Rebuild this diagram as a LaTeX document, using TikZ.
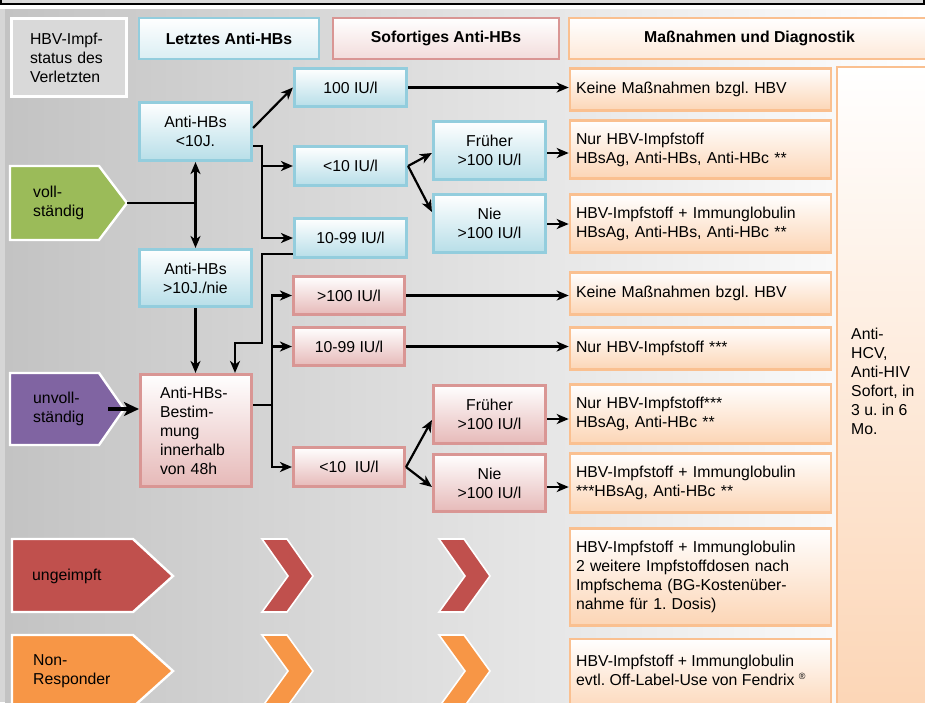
\documentclass[tikz,border=0pt]{standalone}
\usepackage{fontspec}
\setmainfont{Liberation Sans}
\usetikzlibrary{arrows.meta}
\definecolor{bgL}{HTML}{C3C3C3}
\definecolor{bgStrip}{HTML}{D6D6D6}
\definecolor{topGray}{HTML}{DADADA}
\definecolor{blueB}{HTML}{93CDDD}
\definecolor{blueF}{HTML}{B7DEE8}
\definecolor{redB}{HTML}{D99694}
\definecolor{redF}{HTML}{E6B9B8}
\definecolor{oraB}{HTML}{FAC090}
\definecolor{oraF}{HTML}{FCD5B5}
\definecolor{hdrBlue}{HTML}{DAEEF3}
\definecolor{hdrRed}{HTML}{F2DCDB}
\definecolor{hdrOra}{HTML}{FDE9D9}
\definecolor{stGreen}{HTML}{9BBB59}
\definecolor{stPurple}{HTML}{8064A2}
\definecolor{stRed}{HTML}{C0504D}
\definecolor{stOrange}{HTML}{F79646}
\definecolor{hbvGray}{HTML}{D9D9D9}
\tikzset{
  box/.style={rectangle, line width=2.6pt, inner sep=0pt, align=center, text=black},
  bluebox/.style={box, draw=blueB, top color=white, bottom color=blueF},
  redbox/.style={box, draw=redB, top color=white, bottom color=redF},
  obox/.style={box, draw=oraB, top color=white, bottom color=oraF, align=left, inner xsep=6pt, text width=249pt, minimum width=261pt},
  hdr/.style={box, font=\fontsize{15.8}{19}\selectfont\bfseries},
  arr/.style={draw=black, line width=2.2pt, -{Stealth[length=12pt,width=10pt,inset=3.5pt]}},
  dbl/.style={draw=black, line width=2.2pt, {Stealth[length=12pt,width=10pt,inset=3.5pt]}-{Stealth[length=12pt,width=10pt,inset=3.5pt]}},
  arrthick/.style={draw=black, line width=3.4pt, -{Stealth[length=15pt,width=14pt,inset=4pt]}},
  plain/.style={draw=black, line width=2.2pt},
  stat/.style={line width=2.4pt, draw=white},
  chev/.style={line width=1.6pt, draw=white},
  lbl/.style={anchor=west, align=left, inner sep=0pt, text=black},
}
\begin{document}
\frenchspacing
\begin{tikzpicture}[x=1pt,y=-1pt, font=\fontsize{15.8}{19}\selectfont]
\useasboundingbox (0,0) rectangle (925,702);
% top frame strip
\fill[topGray] (0,0) rectangle (925,4);
\fill[black] (0,3) rectangle (925,5);
\fill[black] (0,0) rectangle (2,5);
\fill[black] (923,0) rectangle (925,5);
\fill[white] (0,5) rectangle (925,9);
% background
\shade[left color=bgL, right color=white] (5,9) rectangle (925,702);
\fill[bgStrip] (0,9) rectangle (5,702);

% headers
\node[box, draw=white, line width=3pt, fill=hbvGray, minimum width=115pt, minimum height=78pt, text width=78pt, align=left] (hbv) at (69,57.5) {HBV-Impf-\\status des\\Verletzten};
\node[hdr, draw=blueB, top color=white, bottom color=hdrBlue, minimum width=180pt, minimum height=41pt] (hA) at (229,38.5) {Letztes Anti-HBs};
\node[hdr, draw=redB, top color=white, bottom color=hdrRed, minimum width=226pt, minimum height=41pt] (hB) at (446,38.5) {Sofortiges Anti-HBs};
\node[hdr, draw=oraB, top color=white, bottom color=hdrOra, minimum width=361pt, minimum height=41pt] (hC) at (749.5,38.5) {Maßnahmen und Diagnostik};

% status pentagons
\path[stat, fill=stGreen] (10,166) -- (99,166) -- (127,203) -- (99,240) -- (10,240) -- cycle;
\coordinate (volltip) at (127,203);
\node[lbl] (voll) at (33,203) {voll-\\ständig};
\path[stat, fill=stPurple] (10,373) -- (99,373) -- (124,409) -- (99,445) -- (10,445) -- cycle;
\node[lbl] (unvoll) at (33,409) {unvoll-\\ständig};
\path[stat, fill=stRed] (12,539) -- (133,539) -- (173,576) -- (133,612) -- (12,612) -- cycle;
\node[lbl] (ungeimpft) at (32,576) {ungeimpft};
\path[stat, fill=stOrange] (12,635) -- (133,635) -- (173,671) -- (133,707) -- (12,707) -- cycle;
\node[lbl] (nonresp) at (33,671) {Non-\\Responder};

% chevrons
\path[chev, fill=stRed] (262,539) -- (287,539) -- (313,576) -- (287,612) -- (262,612) -- (288,576) -- cycle;
\path[chev, fill=stRed] (439,539) -- (464,539) -- (490,576) -- (464,612) -- (439,612) -- (465,576) -- cycle;
\path[chev, fill=stOrange] (262,635) -- (287,635) -- (313,671) -- (287,707) -- (262,707) -- (288,671) -- cycle;
\path[chev, fill=stOrange] (439,635) -- (464,635) -- (490,671) -- (464,707) -- (439,707) -- (465,671) -- cycle;

% blue boxes
\node[bluebox, minimum width=112.5pt, minimum height=58.5pt] (a10) at (195.5,131.5) {Anti-HBs\\<10J.};
\node[bluebox, minimum width=112.5pt, minimum height=57.5pt] (a10n) at (195.5,278) {Anti-HBs\\>10J./nie};
\node[bluebox, minimum width=112.5pt, minimum height=38.5pt] (b100) at (350.5,87.5) {100 IU/l};
\node[bluebox, minimum width=112.5pt, minimum height=39.5pt] (blt10) at (350.5,166) {<10 IU/l};
\node[bluebox, minimum width=112.5pt, minimum height=39.5pt] (b1099) at (350.5,238) {10-99 IU/l};
\node[bluebox, minimum width=112.5pt, minimum height=58.5pt] (bfr) at (489.5,150.5) {Früher\\>100 IU/l};
\node[bluebox, minimum width=112.5pt, minimum height=58.5pt] (bnie) at (489.5,223.5) {Nie\\>100 IU/l};

% red boxes
\node[redbox, minimum width=111.5pt, minimum height=112.5pt, text width=72pt, align=left] (rbest) at (196,430.5) {Anti-HBs-\\Bestim-\\mung\\innerhalb\\von 48h};
\node[redbox, minimum width=111.5pt, minimum height=38.5pt] (r100) at (349,295.5) {>100 IU/l};
\node[redbox, minimum width=111.5pt, minimum height=38.5pt] (r1099) at (349,346.5) {10-99 IU/l};
\node[redbox, minimum width=111.5pt, minimum height=39.5pt] (rlt10) at (349,467) {<10\ \ IU/l};
\node[redbox, minimum width=112.5pt, minimum height=58.5pt] (rfr) at (489.5,414.5) {Früher\\>100 IU/l};
\node[redbox, minimum width=112.5pt, minimum height=57.5pt] (rnie) at (489.5,483) {Nie\\>100 IU/l};

% measures
\node[obox, minimum height=42.5pt] (o1) at (700.5,89.5) {Keine Maßnahmen bzgl. HBV};
\node[obox, minimum height=58.5pt] (o2) at (700.5,149.5) {Nur HBV-Impfstoff\\HBsAg, Anti-HBs, Anti-HBc **};
\node[obox, minimum height=58.5pt] (o3) at (700.5,223.5) {HBV-Impfstoff + Immunglobulin\\HBsAg, Anti-HBs, Anti-HBc **};
\node[obox, minimum height=42.5pt] (o4) at (700.5,293.5) {Keine Maßnahmen bzgl. HBV};
\node[obox, minimum height=42.5pt] (o5) at (700.5,348.5) {Nur HBV-Impfstoff ***};
\node[obox, minimum height=59.5pt] (o6) at (700.5,414) {Nur HBV-Impfstoff***\\HBsAg, Anti-HBc **};
\node[obox, minimum height=59.5pt] (o7) at (700.5,483) {HBV-Impfstoff + Immunglobulin\\{}***HBsAg, Anti-HBc **};
\node[obox, minimum height=97.5pt] (o8) at (700.5,577) {HBV-Impfstoff + Immunglobulin\\2 weitere Impfstoffdosen nach\\Impfschema (BG-Kostenüber-\\nahme für 1. Dosis)};
\node[box, draw=oraB, top color=white, bottom color=oraF, minimum width=261pt, minimum height=76pt] (o9) at (700.5,677) {};
\node[lbl] (o9t) at (576,670) {HBV-Impfstoff + Immunglobulin\\evtl. Off-Label-Use von Fendrix {\fontsize{9}{9}\selectfont\raisebox{6pt}{®}}};
\node[box, draw=oraB, top color=white, bottom color=oraF, minimum width=98pt, minimum height=648pt] (tall) at (886,391) {};
\node[lbl] (talltxt) at (851,381) {Anti-\\HCV,\\Anti-HIV\\Sofort, in\\3 u. in 6\\Mo.};

% connectors
\draw[plain] (volltip) -- (volltip -| a10.south);
\draw[dbl] (a10.south) -- (a10n.north);
\draw[arr] (a10.east |- 0,128) -- (b100.west);
\coordinate (bus1) at (262,146);
\draw[arr] (a10.east |- bus1) -- (bus1) |- (b1099.west);
\draw[arr] (bus1 |- blt10.west) -- (blt10.west);
\draw[arr] (b1099.west |- 0,254) -- (262,254) -- (262,343) -- (235,343) -- (235,0 |- rbest.north);
\draw[arr] (a10n.south) -- (a10n.south |- rbest.north);
\coordinate (uvs) at (108,409);
\draw[arrthick] (uvs) -- (uvs -| rbest.west);
\coordinate (bus2) at (272,405);
\draw[plain] (rbest.east |- bus2) -- (bus2);
\draw[arr] (bus2) |- (r100.west);
\draw[arr] (bus2) |- (rlt10.west);
\draw[arr] (bus2 |- r1099.west) -- (r1099.west);
\draw[arr] (blt10.east) -- (bfr.west |- 0,153);
\draw[arr] (blt10.east) -- (bnie.west |- 0,212);
\draw[arr] (rlt10.east) -- (rfr.west |- 0,420);
\draw[arr] (rlt10.east) -- (rnie.west |- 0,487);
\draw[arr] (b100.east) -- (b100.east -| o1.west);
\draw[arr] (bfr.east |- 0,153) -- (o2.west |- 0,153);
\draw[arr] (bnie.east |- 0,224) -- (o3.west |- 0,224);
\draw[arr] (r100.east) -- (r100.east -| o4.west);
\draw[arr] (r1099.east) -- (r1099.east -| o5.west);
\draw[arr] (rfr.east |- 0,419) -- (o6.west |- 0,419);
\draw[arr] (rnie.east |- 0,487) -- (o7.west |- 0,487);
\end{tikzpicture}
\end{document}
